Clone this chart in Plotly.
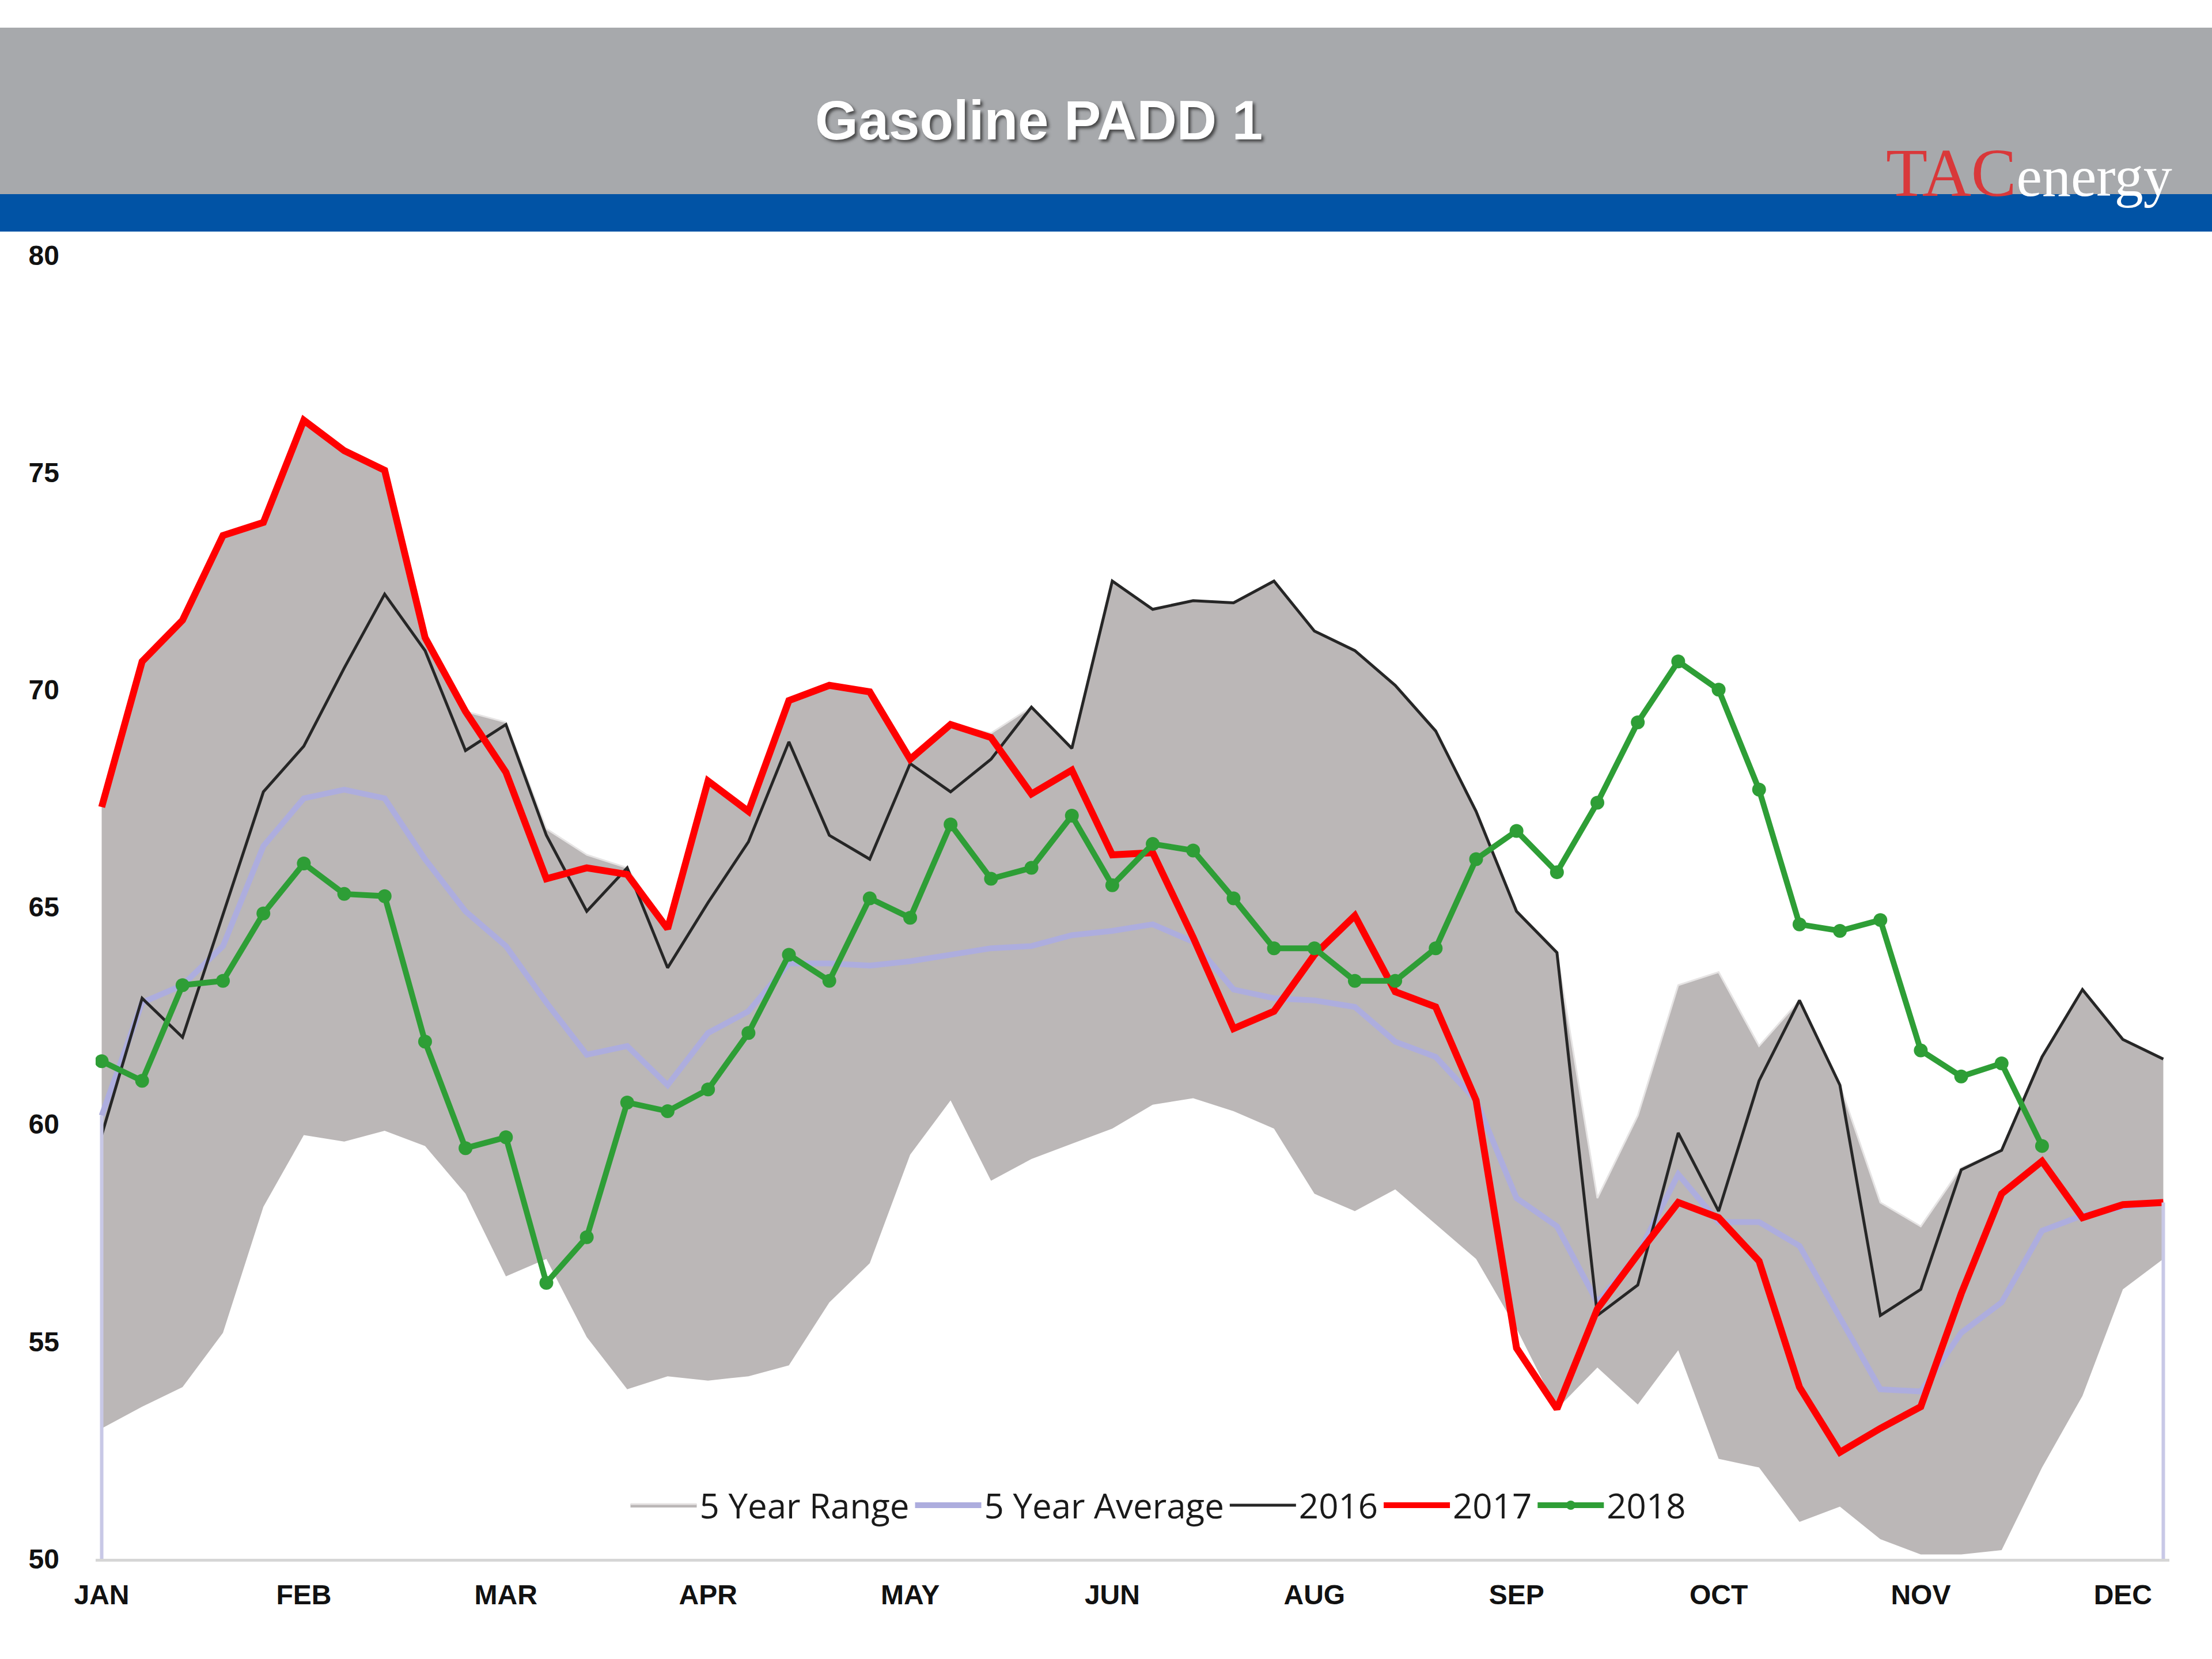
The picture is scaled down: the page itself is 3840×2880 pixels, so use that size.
import plotly.graph_objects as go

# ---------------- data ----------------
weeks = list(range(52))
tick_weeks = [0, 5, 10, 15, 20, 25, 30, 35, 40, 45, 50]
month_labels = ["JAN", "FEB", "MAR", "APR", "MAY", "JUN", "AUG", "SEP", "OCT", "NOV", "DEC"]

range_upper = [67.3, 70.65, 71.6, 73.55, 73.85, 76.2, 75.5, 75.05, 71.2, 69.5,
               69.25, 66.8, 66.2, 65.9, 64.5, 67.9, 67.2, 69.75, 70.1, 69.95,
               68.4, 69.2, 69.0, 69.6, 68.65, 72.5, 71.85, 72.05, 72.0, 72.5,
               71.35, 70.9, 70.1, 69.05, 67.2, 64.9, 63.95, 58.3, 60.2, 63.2,
               63.5, 61.8, 62.85, 60.9, 58.2, 57.65, 59.0, 59.4, 61.55, 63.1,
               61.95, 61.5]
range_lower = [53.0, 53.5, 53.95, 55.2, 58.1, 59.75, 59.6, 59.85, 59.5, 58.4,
               56.5, 56.9, 55.1, 53.9, 54.2, 54.1, 54.2, 54.45, 55.9, 56.8,
               59.3, 60.55, 58.7, 59.2, 59.55, 59.9, 60.45, 60.6, 60.3, 59.9,
               58.4, 58.0, 58.5, 57.7, 56.9, 55.3, 53.45, 54.4, 53.55, 54.8,
               52.3, 52.1, 50.85, 51.2, 50.45, 50.1, 50.1, 50.2, 52.1, 53.75,
               56.2, 56.9]
avg_5yr = [60.2, 62.8, 63.2, 64.1, 66.4, 67.5, 67.7, 67.5, 66.1, 64.9,
           64.1, 62.8, 61.6, 61.8, 60.9, 62.1, 62.6, 63.7, 63.7, 63.65,
           63.75, 63.9, 64.05, 64.1, 64.35, 64.45, 64.6, 64.2, 63.1, 62.9,
           62.85, 62.7, 61.9, 61.55, 60.55, 58.3, 57.65, 55.9, 57.0, 58.85,
           57.75, 57.75, 57.2, 55.55, 53.9, 53.85, 55.2, 55.9, 57.55, 57.9,
           58.1, 58.2]
y2016 = [59.75, 62.9, 62.0, 64.8, 67.65, 68.7, 70.5, 72.2, 70.9, 68.6,
         69.2, 66.65, 64.9, 65.9, 63.6, 65.1, 66.5, 68.8, 66.65, 66.1,
         68.3, 67.65, 68.4, 69.6, 68.65, 72.5, 71.85, 72.05, 72.0, 72.5,
         71.35, 70.9, 70.1, 69.05, 67.2, 64.9, 63.95, 55.6, 56.3, 59.8,
         58.0, 61.0, 62.85, 60.9, 55.6, 56.2, 58.95, 59.4, 61.55, 63.1,
         61.95, 61.5]
y2017 = [67.3, 70.65, 71.6, 73.55, 73.85, 76.2, 75.5, 75.05, 71.2, 69.5,
         68.1, 65.65, 65.9, 65.75, 64.5, 67.9, 67.2, 69.75, 70.1, 69.95,
         68.4, 69.2, 68.9, 67.6, 68.15, 66.2, 66.25, 64.3, 62.2, 62.6,
         63.9, 64.8, 63.05, 62.7, 60.55, 54.85, 53.45, 55.75, 57.0, 58.2,
         57.85, 56.85, 53.95, 52.45, 53.0, 53.5, 56.1, 58.4, 59.15, 57.85,
         58.15, 58.2]
y2018 = [61.45, 61.0, 63.2, 63.3, 64.85, 66.0, 65.3, 65.25, 61.9, 59.45,
         59.7, 56.35, 57.4, 60.5, 60.3, 60.8, 62.1, 63.9, 63.3, 65.2,
         64.75, 66.9, 65.65, 65.9, 67.1, 65.5, 66.45, 66.3, 65.2, 64.05,
         64.05, 63.3, 63.3, 64.05, 66.1, 66.75, 65.8, 67.4, 69.25, 70.65,
         70.0, 67.7, 64.6, 64.45, 64.7, 61.7, 61.1, 61.4, 59.5]

# ---------------- figure ----------------
W, H = 3840, 2880
L, R, T, B = 166, 74, 443, 174
Y_MIN, Y_MAX = 50, 80

fig = go.Figure()

fig.add_trace(go.Scatter(x=weeks, y=range_lower, mode="lines",
                         line=dict(width=0, color="rgba(0,0,0,0)"),
                         showlegend=False, hoverinfo="skip"))
fig.add_trace(go.Scatter(x=weeks, y=range_upper, mode="lines", name="5 Year Range",
                         fill="tonexty", fillcolor="#bbb7b7",
                         line=dict(width=3, color="#e6e4e4")))
fig.add_trace(go.Scatter(x=weeks, y=avg_5yr, mode="lines", name="5 Year Average",
                         line=dict(width=10, color="#adadde")))
fig.add_trace(go.Scatter(x=weeks, y=y2016, mode="lines", name="2016",
                         line=dict(width=5, color="#262626")))
fig.add_trace(go.Scatter(x=weeks, y=y2017, mode="lines", name="2017",
                         line=dict(width=12, color="#ff0000")))
fig.add_trace(go.Scatter(x=weeks[:len(y2018)], y=y2018, mode="lines+markers", name="2018",
                         line=dict(width=10, color="#2e9e36"),
                         marker=dict(size=24, color="#2e9e36")))

pw = W - L - R
ph = H - T - B


def px_x(px):
    return (px - L) / pw


def px_y(py):
    return (H - B - py) / ph


shapes = [
    dict(type="rect", xref="paper", yref="paper",
         x0=px_x(0), x1=px_x(W), y0=px_y(337), y1=px_y(48),
         fillcolor="#a7a9ac", line=dict(width=0), layer="below"),
    dict(type="rect", xref="paper", yref="paper",
         x0=px_x(0), x1=px_x(W), y0=px_y(402), y1=px_y(337),
         fillcolor="#0153a5", line=dict(width=0), layer="below"),
    # edge drop lines of the 5-year average area (as in the source chart)
    dict(type="line", xref="x", yref="y",
         x0=weeks[0], x1=weeks[0], y0=Y_MIN, y1=avg_5yr[0],
         line=dict(color="#c8c8e6", width=6), layer="above"),
    dict(type="line", xref="x", yref="y",
         x0=weeks[-1], x1=weeks[-1], y0=Y_MIN, y1=avg_5yr[-1],
         line=dict(color="#c8c8e6", width=6), layer="above"),
]

annotations = [
    dict(text="Gasoline PADD 1", xref="paper", yref="paper",
         x=px_x(1803), y=px_y(208), xanchor="center", yanchor="middle",
         showarrow=False,
         font=dict(family="Liberation Sans, Arial", size=96, color="white",
                   weight="bold", shadow="4px 4px 5px rgba(40,40,40,0.75)")),
    dict(text="<span style='color:#d9383a'>TAC</span>"
              "<span style='color:#ffffff;font-size:100px'>energy</span>",
         xref="paper", yref="paper", x=px_x(3522), y=px_y(300),
         xanchor="center", yanchor="middle", showarrow=False,
         font=dict(family="Liberation Serif, Times New Roman", size=118, color="#d9383a")),
]

fig.update_layout(
    width=W, height=H,
    margin=dict(l=L, r=R, t=T, b=B, pad=0),
    paper_bgcolor="white", plot_bgcolor="white",
    showlegend=True,
    legend=dict(orientation="h", x=px_x(2011), y=px_y(2613),
                xanchor="center", yanchor="middle",
                font=dict(family="Open Sans", size=60, color="#1a1a1a"),
                bgcolor="rgba(0,0,0,0)", itemwidth=115,
                traceorder="normal"),
    shapes=shapes,
    annotations=annotations,
    xaxis=dict(range=[-0.15, 51.15], tickmode="array", tickvals=tick_weeks,
               ticktext=month_labels, showgrid=False, zeroline=False,
               showline=True, linecolor="#d6d6d6", linewidth=5, ticks="",
               ticklabelstandoff=16,
               tickfont=dict(family="Liberation Sans, Arial", size=48,
                             color="#111111", weight="bold")),
    yaxis=dict(range=[Y_MIN, Y_MAX], tickmode="array", tickvals=[50, 55, 60, 65, 70, 75, 80],
               showgrid=False, zeroline=False, showline=False, ticks="",
               ticklabelstandoff=62,
               tickfont=dict(family="Liberation Sans, Arial", size=48,
                             color="#111111", weight="bold")),
)

fig.write_html("out.html", config={"displayModeBar": False},
               post_script="document.body.style.margin='0px';")
